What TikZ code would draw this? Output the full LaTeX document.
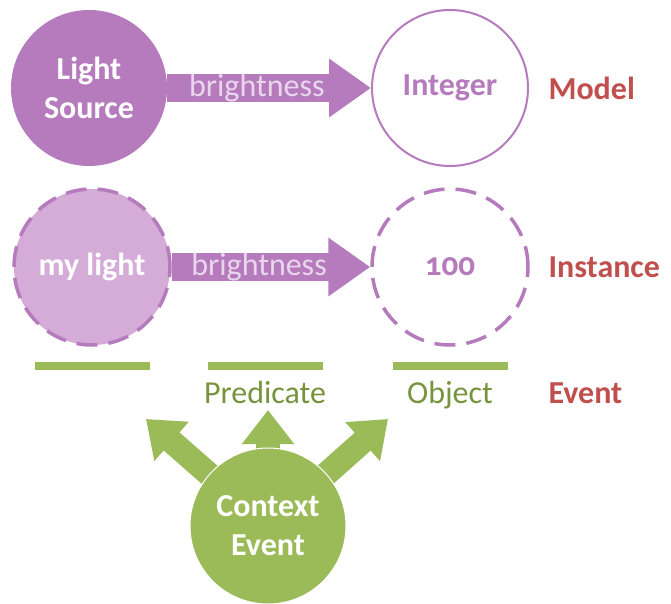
\documentclass[tikz,border=0pt]{standalone}
\usepackage{fontspec}
\setmainfont{Carlito}
\usetikzlibrary{arrows.meta, positioning}

\definecolor{lilac}{HTML}{B57BBD}
\definecolor{palelilac}{HTML}{D5ABD8}
\definecolor{haze}{HTML}{EAD6EC}
\definecolor{grass}{HTML}{9BBB59}
\definecolor{olive}{HTML}{77933C}
\definecolor{brick}{HTML}{C0504D}

\tikzset{
  ball/.style={circle, minimum size=156pt, inner sep=0pt, align=center,
    font=\fontsize{32}{39}\selectfont\bfseries},
  dashball/.style={ball, draw=lilac, line width=3.5pt, dash pattern=on 21pt off 11pt},
  fatarrow/.style={draw=lilac, line width=28pt, -{Triangle[length=42pt, width=56pt]}},
  greenarrow/.style={draw=grass, line width=24pt, -{Triangle[length=34pt, width=50pt]}},
  bar/.style={fill=grass, minimum width=115pt, minimum height=8pt, inner sep=0pt},
  rowlabel/.style={anchor=west, text=brick, font=\fontsize{32}{39}\selectfont\bfseries},
  role/.style={text=olive, font=\fontsize{32}{39}\selectfont}
}

\begin{document}
\begin{tikzpicture}[x=1pt, y=-1pt]
\useasboundingbox (0,0) rectangle (671,604);

% model row
\node[ball, fill=lilac, text=white] (source) at (89,88) {Light\\Source};
\node[ball, draw=lilac, line width=2pt, text=lilac] (integer) at (450,88) {Integer};
\draw[fatarrow] (source) -- (integer)
  node[pos=0.44, text=haze, font=\fontsize{32}{39}\selectfont] {brightness};
\node[rowlabel] (model) at (545,88) {Model};

% instance row
\node[dashball, fill=palelilac, text=white] (mylight) at (92,267) {my light};
\node[dashball, fill=white, text=lilac, font=\fontsize{33}{39}\selectfont\bfseries\addfontfeatures{Numbers=OldStyle}] (value) at (450,267) {100};
\draw[fatarrow] (mylight) -- (value)
  node[pos=0.44, text=haze, font=\fontsize{32}{39}\selectfont] {brightness};
\node[rowlabel] (instance) at (545,267) {Instance};

% event row
\node[bar] (subj) at (92,366) {};
\node[bar] (pred) at (265,366) {};
\node[bar] (obj) at (450,366) {};
\node[role, below=8pt of pred] (predtext) {Predicate};
\node[role, below=8pt of obj] (objtext) {Object};
\node[rowlabel] (event) at (545,393) {Event};

\coordinate (ctr) at (268,526);
\coordinate (tipl) at (146,419);
\coordinate (tipm) at (268,410);
\coordinate (tipr) at (388,419);
\draw[greenarrow] (ctr) -- (tipl);
\draw[greenarrow] (ctr) -- (tipm);
\draw[greenarrow] (ctr) -- (tipr);
\node[ball, fill=grass, draw=white, line width=1pt, text=white] (context) at (ctr) {Context\\Event};
\end{tikzpicture}
\end{document}
